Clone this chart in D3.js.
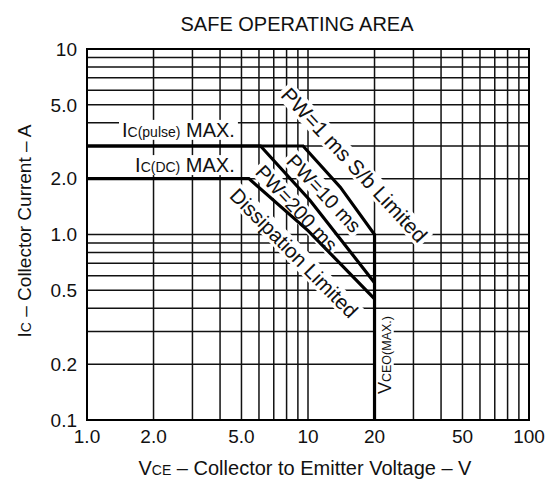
<!DOCTYPE html>
<html>
<head>
<meta charset="utf-8">
<script src="https://cdn.jsdelivr.net/npm/d3@7"></script>
<style>
  body { margin: 0; background: #fff; }
  text { font-family: "Liberation Sans", Arial, sans-serif; fill: #111; }
</style>
</head>
<body>
<svg id="chart" width="546" height="488"></svg>
<script>
//------------------------------------------------------------
// dados
var xTicks = [1, 2, 5, 10, 20, 50, 100];
var xTickLabels = ["1.0", "2.0", "5.0", "10", "20", "50", "100"];
var yTicks = [0.1, 0.2, 0.5, 1, 2, 5, 10];
var yTickLabels = ["0.1", "0.2", "0.5", "1.0", "2.0", "5.0", "10"];

var gridX = [1, 2, 3, 4, 5, 6, 7, 8, 9, 10, 20, 30, 40, 50, 60, 70, 80, 90, 100];
var gridY = [0.1, 0.2, 0.3, 0.4, 0.5, 0.6, 0.7, 0.8, 0.9, 1, 2, 3, 4, 5, 6, 7, 8, 9, 10];

// curvas [Vce, Ic]
var pw1ms = [[1, 3], [9.5, 3], [14, 1.8], [20, 1.0], [20, 0.1]];
var pw10ms = [[1, 3], [6.1, 3], [10.2, 1.53], [20, 0.55]];
var dissipacao = [[1, 2], [5.4, 2], [10, 1.05], [20, 0.45]];

// rotulos: texto, posicao (dados), angulo
var rotulos = [
  { parts: [["I", 20], ["C(pulse)", 14], [" MAX.", 20]], x: 1.44, y: 3.36, ang: 0, anchor: "start" },
  { parts: [["I", 20], ["C(DC)", 14], [" MAX.", 20]], x: 1.65, y: 2.17, ang: 0, anchor: "start" },
  { parts: [["PW=1 ms S/b Limited", 21]], x: 16.0, y: 2.34, ang: 47, anchor: "middle" },
  { parts: [["PW=10 ms", 20]], x: 11.7, y: 1.65, ang: 47, anchor: "middle" },
  { parts: [["PW=200 ms", 20]], x: 8.8, y: 1.37, ang: 47, anchor: "middle" },
  { parts: [["Dissipation Limited", 20.5]], x: 8.55, y: 0.785, ang: 45.5, anchor: "middle" },
  { parts: [["V", 18], ["CEO(MAX.)", 12.5]], x: 22.3, y: 0.224, ang: -90, anchor: "middle" }
];

//------------------------------------------------------------
var margem = { left: 87, right: 17, top: 49, bottom: 68 };
var w = 546, h = 488;

var svg = d3.select("#chart");

var xScale = d3.scaleLog().domain([1, 100]).range([margem.left, w - margem.right]);
var yScale = d3.scaleLog().domain([0.1, 10]).range([h - margem.bottom, margem.top]);

desenhaGrade();
var camadaFundo = svg.append("g");
desenhaCurvas();
desenhaMoldura();
rotulaEixos();
desenhaRotulos();

//------------------------------------------------------------
// grade
function desenhaGrade() {
  var g = svg.append("g");
  g.selectAll(".gx")
    .data(gridX)
    .enter()
    .append("line")
    .attr("x1", function(d) { return xScale(d); })
    .attr("x2", function(d) { return xScale(d); })
    .attr("y1", yScale(0.1))
    .attr("y2", yScale(10))
    .attr("stroke", "#111")
    .attr("stroke-width", 1.5);

  g.selectAll(".gy")
    .data(gridY)
    .enter()
    .append("line")
    .attr("x1", xScale(1))
    .attr("x2", xScale(100))
    .attr("y1", function(d) { return yScale(d); })
    .attr("y2", function(d) { return yScale(d); })
    .attr("stroke", "#111")
    .attr("stroke-width", 1.5);
}

// curvas do SOA
function desenhaCurvas() {
  var linha = d3.line()
    .x(function(d) { return xScale(d[0]); })
    .y(function(d) { return yScale(d[1]); });

  svg.append("g")
    .selectAll("path")
    .data([pw1ms, pw10ms, dissipacao])
    .enter()
    .append("path")
    .attr("d", linha)
    .attr("fill", "none")
    .attr("stroke", "#000")
    .attr("stroke-width", 3.2)
    .attr("stroke-linejoin", "miter");
}

function desenhaMoldura() {
  svg.append("rect")
    .attr("x", xScale(1))
    .attr("y", yScale(10))
    .attr("width", xScale(100) - xScale(1))
    .attr("height", yScale(0.1) - yScale(10))
    .attr("fill", "none")
    .attr("stroke", "#000")
    .attr("stroke-width", 2);
}

//------------------------------------------------------------
// eixos e titulos
function rotulaEixos() {
  svg.append("text")
    .attr("x", 297)
    .attr("y", 31)
    .attr("text-anchor", "middle")
    .attr("font-size", "20px")
    .text("SAFE OPERATING AREA");

  svg.append("g")
    .selectAll("text")
    .data(xTicks)
    .enter()
    .append("text")
    .attr("x", function(d) { return xScale(d); })
    .attr("y", 443)
    .attr("text-anchor", "middle")
    .attr("font-size", "19px")
    .text(function(d, i) { return xTickLabels[i]; });

  svg.append("g")
    .selectAll("text")
    .data(yTicks)
    .enter()
    .append("text")
    .attr("x", 77)
    .attr("y", function(d) { return yScale(d); })
    .attr("dy", "0.36em")
    .attr("text-anchor", "end")
    .attr("font-size", "19px")
    .text(function(d, i) { return yTickLabels[i]; });

  var tx = svg.append("text")
    .attr("x", 305)
    .attr("y", 475)
    .attr("text-anchor", "middle")
    .attr("font-size", "20px");
  tx.append("tspan").text("V");
  tx.append("tspan").attr("font-size", "14px").text("CE");
  tx.append("tspan").text(" \u2013 Collector to Emitter Voltage \u2013 V");

  var ty = svg.append("text")
    .attr("transform", "translate(31,231) rotate(-90)")
    .attr("text-anchor", "middle")
    .attr("font-size", "19px");
  ty.append("tspan").text("I");
  ty.append("tspan").attr("font-size", "14px").text("C");
  ty.append("tspan").text(" \u2013 Collector Current \u2013 A");
}

// rotulos das curvas, com fundo branco que interrompe a grade
function desenhaRotulos() {
  rotulos.forEach(function(r) {
    var g = svg.append("g")
      .attr("transform", "translate(" + xScale(r.x) + "," + yScale(r.y) + ") rotate(" + r.ang + ")");
    var t = g.append("text")
      .attr("text-anchor", r.anchor)
      .attr("dy", r.ang === 0 ? 0 : "0.36em");
    r.parts.forEach(function(p) {
      t.append("tspan").attr("font-size", p[1] + "px").text(p[0]);
    });
    var bb = t.node().getBBox();
    var fundo = camadaFundo.append("g")
      .attr("transform", g.attr("transform"));
    fundo.append("rect")
      .attr("x", bb.x - 3)
      .attr("y", bb.y + 1)
      .attr("width", bb.width + 6)
      .attr("height", bb.height - 2)
      .attr("fill", "#fff");
  });
}
</script>
</body>
</html>
